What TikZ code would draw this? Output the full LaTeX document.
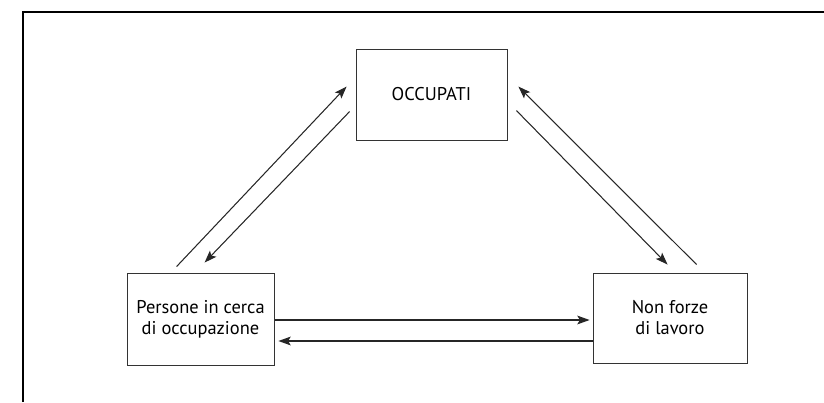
\documentclass[tikz,border=0pt]{standalone}
\usepackage{fontspec}
\setmainfont{PT Sans}
\usetikzlibrary{arrows.meta,calc}

\begin{document}
\begin{tikzpicture}[x=0.02cm, y=-0.02cm,
    every node/.style={font=\fontsize{10.5}{12}\selectfont},
    box/.style={draw=black!80, line width=0.5pt, align=center, inner sep=0pt},
    flow/.style={draw=black!85, line width=0.6pt, -{Stealth[length=7pt, width=5pt, inset=1.5pt]}}]

  \useasboundingbox (0,0) rectangle (824,402);

  % ==================================================
  % Frame (only top and left edges are visible)
  % ==================================================
  \draw[line width=0.9pt] (23,402) -- (23,12) -- (824,12);

  % ==================================================
  % The three boxes
  % ==================================================
  \node[box, minimum width=3.02cm, minimum height=1.82cm] (occupati) at (431.5,94.5) {OCCUPATI};
  \node[box, minimum width=2.94cm, minimum height=1.84cm] (persone)  at (200.5,319) {Persone in cerca\\di occupazione};
  \node[box, minimum width=3.08cm, minimum height=1.80cm] (nonforze) at (670,318) {Non forze\\di lavoro};

  % ==================================================
  % Flows between the boxes
  % ==================================================
  % -- left pair
  \draw[flow] ($(persone.north west)+(50,-6)$) -- ($(occupati.north west)+(-9,38)$);
  \draw[flow] ($(occupati.north west)+(-6,63)$) -- ($(persone.north west)+(78,-10)$);

  % -- right pair
  \draw[flow] ($(nonforze.north west)+(104,-8)$) -- ($(occupati.north east)+(11,38)$);
  \draw[flow] ($(occupati.north east)+(9,62)$) -- ($(nonforze.north west)+(75,-8)$);

  % -- bottom pair
  \draw[flow] ($(persone.east)+(1,1)$) -- ($(nonforze.west)+(-3,2)$);
  \draw[flow] ($(nonforze.west)+(0,23)$) -- ($(persone.east)+(4,22)$);

\end{tikzpicture}
\end{document}
